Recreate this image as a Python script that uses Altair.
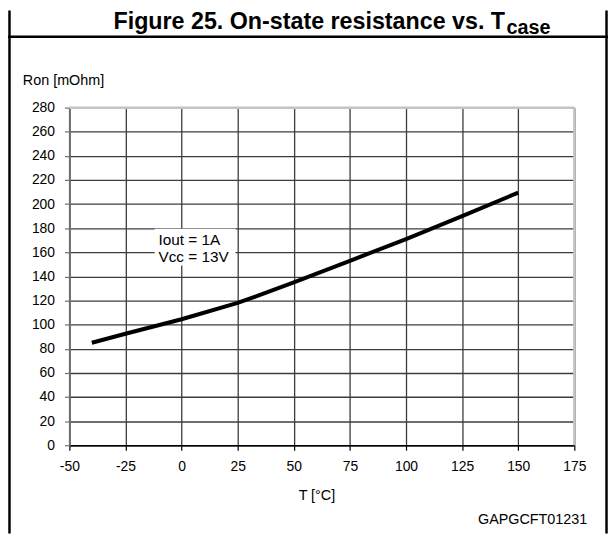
import altair as alt
import pandas as pd

# ---- data ----
temp_c = [-40, -25, 0, 25, 50, 75, 100, 125, 150]
ron_mohm = [85, 92.5, 104.5, 118, 135, 153, 171, 190, 209.5]

x_ticks = [-50, -25, 0, 25, 50, 75, 100, 125, 150, 175]
y_ticks = [0, 20, 40, 60, 80, 100, 120, 140, 160, 180, 200, 220, 240, 260, 280]

title_main = ["Figure 25. On-state resistance vs. T"]
title_sub = ["case"]
y_title = ["Ron [mOhm]"]
x_title = ["T [°C]"]
code_label = ["GAPGCFT01231"]
note_lines = ["Iout = 1A", "Vcc = 13V"]

# annotation placement (data units)
note_x = [-10.3, -10.3]
note_y = [170.5, 155.7]
note_box_x = [-12]
note_box_x2 = [24]
note_box_y = [179.5]
note_box_y2 = [149]

FONT = "Liberation Sans, Arial, Helvetica, sans-serif"
X_DOM = [-50, 175]
Y_DOM = [0, 280]

xs = alt.Scale(domain=X_DOM, nice=False, zero=False)
ys = alt.Scale(domain=Y_DOM, nice=False, zero=False)

X_AXIS = alt.Axis(
    values=x_ticks, title=None, grid=True, gridColor="#3c3c3c", gridWidth=1.3,
    domainColor="black", domainWidth=1.5, tickColor="black", tickWidth=1.2,
    tickSize=5, labelPadding=9, labelFontSize=14, labelColor="black",
    labelFont=FONT, labelFlush=False, labelOverlap=False,
    labelExpr="'' + datum.value")
Y_AXIS = alt.Axis(
    values=y_ticks, title=None, grid=True, gridColor="#3c3c3c", gridWidth=1.3,
    domainColor="#6e6e6e", domainWidth=2, tickColor="#6e6e6e", tickWidth=1.2,
    tickSize=5, labelPadding=10, labelFontSize=14, labelColor="black",
    labelFont=FONT, labelFlush=False, labelOverlap=False,
    labelExpr="'' + datum.value")

curve_df = pd.DataFrame({"T": temp_c, "R": ron_mohm})

line = alt.Chart(curve_df).mark_line(color="black", strokeWidth=4, strokeCap="butt").encode(
    x=alt.X("T:Q", scale=xs, axis=X_AXIS),
    y=alt.Y("R:Q", scale=ys, axis=Y_AXIS),
)

top_df = pd.DataFrame({"R": [Y_DOM[1]]})
top_rule = alt.Chart(top_df).mark_rule(color="#c4c4c4", strokeWidth=2.5).encode(
    y=alt.Y("R:Q", scale=ys, axis=Y_AXIS), x=alt.value(0), x2=alt.value(510))
right_df = pd.DataFrame({"T": [X_DOM[1]]})
right_rule = alt.Chart(right_df).mark_rule(color="#c4c4c4", strokeWidth=2.5).encode(
    x=alt.X("T:Q", scale=xs, axis=X_AXIS), y=alt.value(0), y2=alt.value(341))

box_df = pd.DataFrame({"T": note_box_x, "T2": note_box_x2, "R": note_box_y, "R2": note_box_y2})
box = alt.Chart(box_df).mark_rect(color="white").encode(
    x=alt.X("T:Q", scale=xs, axis=X_AXIS), x2="T2:Q",
    y=alt.Y("R:Q", scale=ys, axis=Y_AXIS), y2="R2:Q")

note_df = pd.DataFrame({"T": note_x, "R": note_y, "t": note_lines})
note = alt.Chart(note_df).mark_text(font=FONT, fontSize=15.5, color="black",
                                    align="left", baseline="middle").encode(
    x=alt.X("T:Q", scale=xs, axis=X_AXIS), y=alt.Y("R:Q", scale=ys, axis=Y_AXIS),
    text="t:N")

def deco(texts, x, y, size, weight="normal", align="left"):
    return alt.Chart(pd.DataFrame({"t": texts})).mark_text(
        font=FONT, fontSize=size, fontWeight=weight, color="black",
        align=align, baseline="alphabetic").encode(
        x=alt.value(x), y=alt.value(y), text="t:N")

# main title ends where the subscript starts (page x ~510)
t_main = deco(title_main, 440, -79.5, 23.5, "bold", align="right")
t_sub = deco(title_sub, 441.5, -74, 20, "bold")
t_y = deco(y_title, -47, -23, 14.5)
t_x = deco(x_title, 250, 396, 14.5, align="center")
t_code = deco(code_label, 523, 421, 14.5, align="right")

frame_df = pd.DataFrame({"k": ["a"]})
under = alt.Chart(frame_df).mark_rule(color="black", strokeWidth=2.5).encode(
    x=alt.value(-62), x2=alt.value(544), y=alt.value(-71.5))
left_b = alt.Chart(frame_df).mark_rule(color="black", strokeWidth=2.5).encode(
    x=alt.value(-60.5), y=alt.value(-98), y2=alt.value(430))
right_b = alt.Chart(frame_df).mark_rule(color="black", strokeWidth=2.5).encode(
    x=alt.value(542.5), y=alt.value(-98), y2=alt.value(430))

chart = alt.layer(
    box, top_rule, right_rule, note, line,
    t_main, t_sub, t_y, t_x, t_code, under, left_b, right_b
).properties(
    width=510, height=341,
    autosize=alt.AutoSizeParams(type="none"),
    padding={"left": 62, "top": 98, "right": 34, "bottom": 89},
    background="white",
).configure_view(stroke="transparent")

chart.save("out.html", embed_options={"renderer": "svg", "actions": False})
